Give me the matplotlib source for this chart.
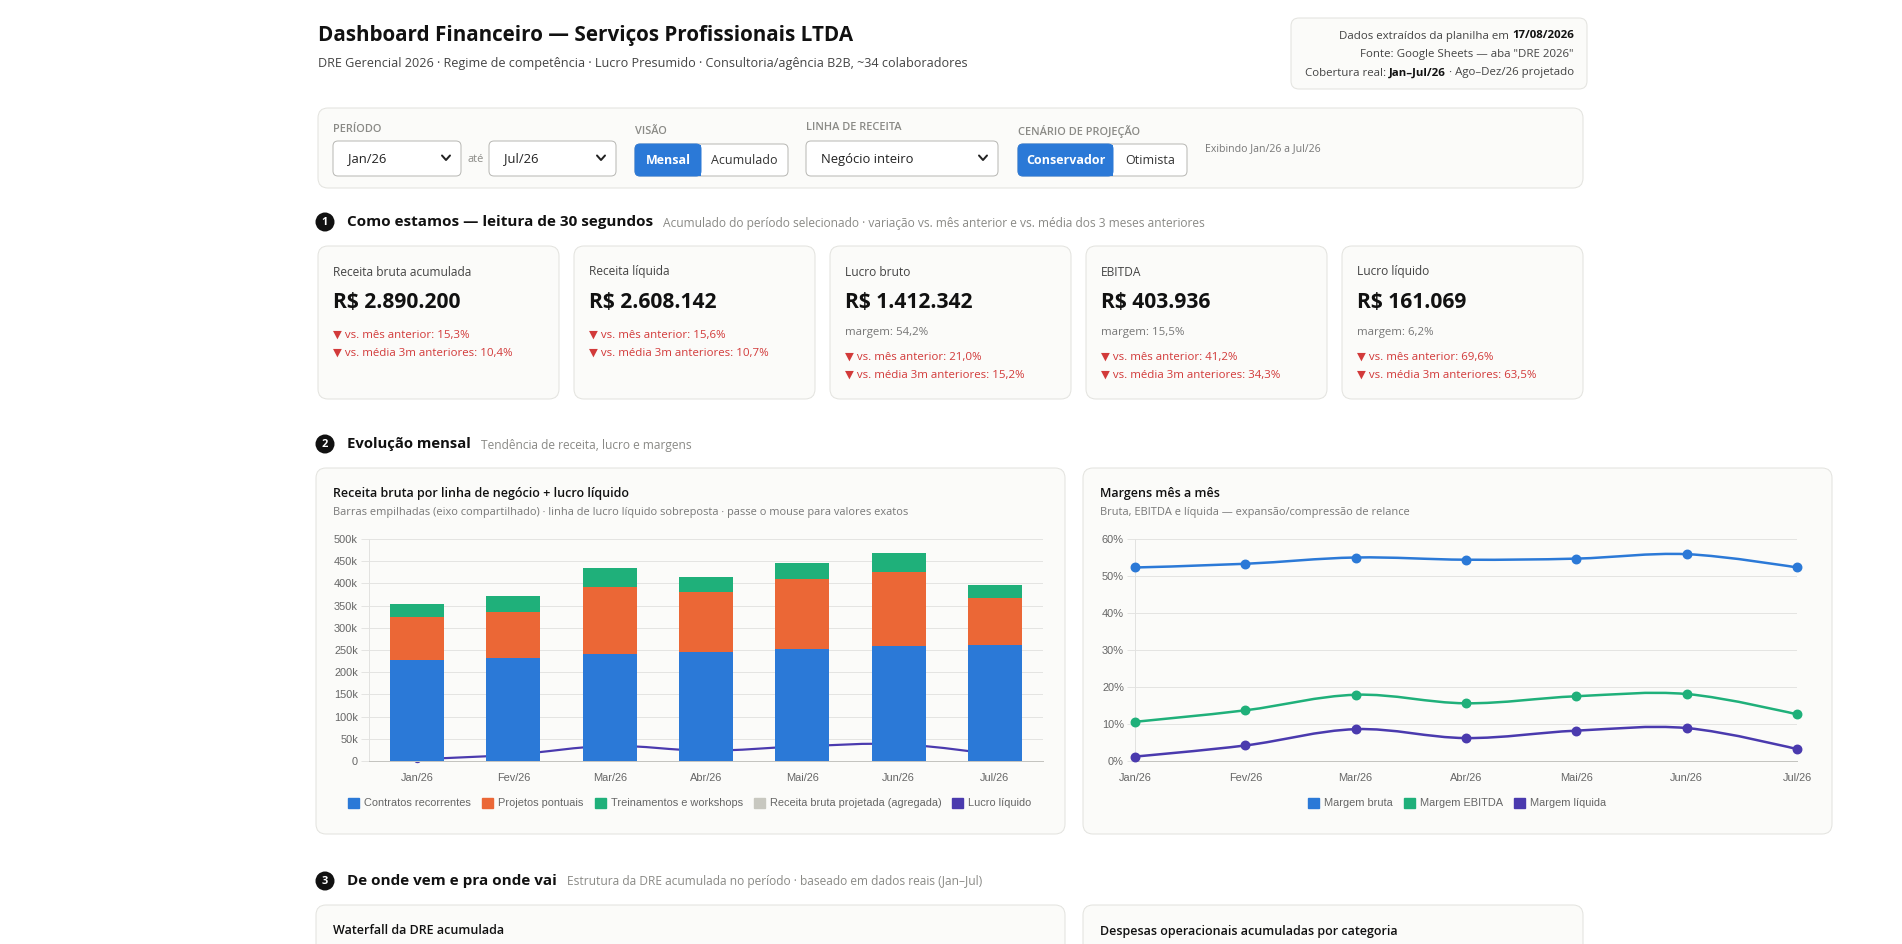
import numpy as np
import matplotlib.pyplot as plt
from matplotlib import font_manager as fm
from matplotlib.patches import FancyBboxPatch, Rectangle, Circle, Patch, PathPatch
from matplotlib.path import Path

# render statically
plt.switch_backend('agg')

W, H = 1902, 944


def pick_family():
    # first UI family that has a real bold face installed
    have = {}
    for f in fm.fontManager.ttflist:
        w = f.weight if isinstance(f.weight, int) else 700 if 'bold' in str(f.weight) else 400
        have.setdefault(f.name, set()).add(w)
    for name in ['Noto Sans', 'Open Sans', 'Lato', 'Roboto', 'Liberation Sans']:
        if name in have and max(have[name]) >= 600 and min(have[name]) <= 400:
            return name
    return 'DejaVu Sans'


UI = [pick_family(), 'DejaVu Sans']
CH = ['Liberation Sans', 'DejaVu Sans']

BLUE = '#2b79d7'
ORANGE = '#eb6736'
GREEN = '#1fb07a'
GREY_LEG = '#c8c8c0'
PURPLE = '#4a3aae'
RED = '#d23a3a'
CARD_BG = '#fbfbf9'
CARD_EDGE = '#e3e3df'

# ---------------- data ----------------
meses = ['Jan/26', 'Fev/26', 'Mar/26', 'Abr/26', 'Mai/26', 'Jun/26', 'Jul/26']
contratos_recorrentes = [227000, 231000, 240000, 245500, 251500, 258000, 262000]
projetos_pontuais = [98000, 105000, 153000, 135000, 159000, 168000, 104000]
treinamentos = [29000, 35000, 41000, 33000, 35000, 42000, 30000]
lucro_liquido = [3800, 14400, 34000, 23200, 33000, 38000, 14669]

margem_bruta = [52.3, 53.3, 55.0, 54.4, 54.7, 55.9, 52.3]
margem_ebitda = [10.6, 13.7, 17.9, 15.6, 17.5, 18.1, 12.6]
margem_liquida = [1.2, 4.2, 8.6, 6.2, 8.2, 8.9, 3.2]

kpi_labels = ['Receita bruta acumulada', 'Receita líquida', 'Lucro bruto', 'EBITDA', 'Lucro líquido']
kpi_values = ['R$ 2.890.200', 'R$ 2.608.142', 'R$ 1.412.342', 'R$ 403.936', 'R$ 161.069']
kpi_margens = [None, None, '54,2%', '15,5%', '6,2%']
kpi_vs_mes = ['15,3%', '15,6%', '21,0%', '41,2%', '69,6%']
kpi_vs_3m = ['10,4%', '10,7%', '15,2%', '34,3%', '63,5%']

bar_ticks = [0, 50000, 100000, 150000, 200000, 250000, 300000, 350000, 400000, 450000, 500000]
bar_tick_labels = ['0', '50k', '100k', '150k', '200k', '250k', '300k', '350k', '400k', '450k', '500k']
margem_ticks = [0, 10, 20, 30, 40, 50, 60]


def pt(px):
    return px * 0.72


fig = plt.figure(figsize=(W / 100, H / 100), dpi=100)
fig.patch.set_facecolor('white')
bg = fig.add_axes([0, 0, 1, 1])
bg.set_xlim(0, W)
bg.set_ylim(H, 0)
bg.axis('off')
renderer = fig.canvas.get_renderer()


def txt(x, y, s, px, color='#222222', weight='normal', ha='left', va='center', family=UI,
        fit=None):
    t = bg.text(x, y, s, fontsize=pt(px), color=color, fontweight=weight,
                ha=ha, va=va, family=family)
    if fit:
        # shrink/grow to the width measured on the reference
        w = t.get_window_extent(renderer=renderer).width
        t.set_fontsize(pt(px) * fit / w)
    return t


def left_of(t):
    return t.get_window_extent(renderer=renderer).x0


def right_of(t):
    return t.get_window_extent(renderer=renderer).x1


def box(x0, y0, x1, y1, r=10, face=CARD_BG, edge=CARD_EDGE, lw=1.0, z=0):
    p = FancyBboxPatch((x0, y0), x1 - x0, y1 - y0,
                       boxstyle='round,pad=0,rounding_size=%g' % r,
                       facecolor=face, edgecolor=edge, linewidth=pt(lw), zorder=z)
    bg.add_patch(p)
    return p


# ---------------- header ----------------
txt(318, 35, 'Dashboard Financeiro — Serviços Profissionais LTDA', 22, '#111111', 'bold', fit=538)
txt(318, 63, 'DRE Gerencial 2026 · Regime de competência · Lucro Presumido · '
    'Consultoria/agência B2B, ~34 colaboradores', 13, '#444444', fit=650)

box(1291, 18, 1587, 89, r=8)
RX = 1574
t = txt(RX, 36, '17/08/2026', 11.5, '#111111', 'bold', ha='right')
txt(left_of(t) - 3, 36, 'Dados extraídos da planilha em', 11.5, '#444444', ha='right')
txt(RX, 54.5, 'Fonte: Google Sheets — aba "DRE 2026"', 11.5, '#444444', ha='right')
t = txt(RX, 73, '· Ago–Dez/26 projetado', 11.5, '#444444', ha='right')
t = txt(left_of(t) - 3, 73, 'Jan–Jul/26', 11.5, '#111111', 'bold', ha='right')
txt(left_of(t) - 3, 73, 'Cobertura real:', 11.5, '#444444', ha='right')

# ---------------- filter panel ----------------
box(318, 108, 1583, 188, r=10)


def select(x0, x1, label):
    box(x0, 141, x1, 176, r=5, face='white', edge='#b9b9b5')
    txt(x0 + 15, 159, label, 13, '#222222')
    cx, cy = x1 - 15, 158
    bg.plot([cx - 4, cx, cx + 4], [cy - 2.5, cy + 2, cy - 2.5], color='#222222',
            lw=pt(2), solid_capstyle='round', solid_joinstyle='round')


def toggle(x0, xm, x1, on, off):
    box(x0, 144, x1, 176, r=5, face='white', edge='#b9b9b5', z=1)
    box(x0, 144, xm, 176, r=5, face=BLUE, edge=BLUE, z=2)
    bg.add_patch(Rectangle((xm - 6, 144.5), 6, 31, facecolor=BLUE, edgecolor='none', zorder=2))
    txt((x0 + xm) / 2, 160, on, 12.5, 'white', 'bold', ha='center').set_zorder(3)
    txt((xm + x1) / 2, 160, off, 12.5, '#333333', ha='center').set_zorder(3)


txt(333, 129, 'PERÍODO', 11, '#8a8a86', 'semibold')
select(333, 461, 'Jan/26')
txt(467, 160, 'até', 11, '#8a8a86')
select(489, 616, 'Jul/26')

txt(635, 132, 'VISÃO', 11, '#8a8a86', 'semibold')
toggle(635, 701, 788, 'Mensal', 'Acumulado')

txt(806, 128, 'LINHA DE RECEITA', 11, '#8a8a86', 'semibold')
select(806, 998, 'Negócio inteiro')

txt(1018, 131, 'CENÁRIO DE PROJEÇÃO', 11, '#8a8a86', 'semibold')
toggle(1018, 1113, 1187, 'Conservador', 'Otimista')

txt(1205, 149, 'Exibindo Jan/26 a Jul/26', 10.5, '#777777')


# ---------------- section headers ----------------
def section(y, num, title, sub, fit):
    bg.add_patch(Circle((325, y), 9.5, facecolor='#111111', edgecolor='none'))
    txt(325, y + 0.5, num, 11, 'white', 'bold', ha='center')
    t = txt(347, y, title, 16, '#111111', 'bold', fit=fit)
    txt(right_of(t) + 10, y + 1, sub, 12, '#8a8a86')


section(222, '1', 'Como estamos — leitura de 30 segundos',
        'Acumulado do período selecionado · variação vs. mês anterior e vs. média dos 3 meses anteriores',
        306)

# ---------------- KPI cards ----------------
cw, gap = 241, 15
for i in range(5):
    x0 = 318 + i * (cw + gap)
    box(x0, 246, x0 + cw, 399, r=10)
    tx = x0 + 15
    txt(tx, 272, kpi_labels[i], 12, '#444444')
    txt(tx, 303, kpi_values[i], 21, '#111111', 'bold')
    if kpi_margens[i] is None:
        y1, y2 = 335, 353
    else:
        txt(tx, 332, 'margem: ' + kpi_margens[i], 11.5, '#777777')
        y1, y2 = 357, 375
    txt(tx, y1, '▼ vs. mês anterior: ' + kpi_vs_mes[i], 11.5, RED)
    txt(tx, y2, '▼ vs. média 3m anteriores: ' + kpi_vs_3m[i], 11.5, RED)

# ---------------- section 2 ----------------
section(444, '2', 'Evolução mensal', 'Tendência de receita, lucro e margens', 124)

box(316, 468, 1065, 834, r=10)
box(1083, 468, 1832, 834, r=10)
txt(333, 494, 'Receita bruta por linha de negócio + lucro líquido', 12.5, '#111111', 'semibold')
txt(333, 512, 'Barras empilhadas (eixo compartilhado) · linha de lucro líquido sobreposta · '
    'passe o mouse para valores exatos', 11, '#777777')
txt(1100, 494, 'Margens mês a mês', 12.5, '#111111', 'semibold')
txt(1100, 512, 'Bruta, EBITDA e líquida — expansão/compressão de relance', 11, '#777777')


def frac(x0, y0, x1, y1):
    return [x0 / W, 1 - y1 / H, (x1 - x0) / W, (y1 - y0) / H]


def style_axes(ax):
    ax.set_facecolor('none')
    for s in ['top', 'right']:
        ax.spines[s].set_visible(False)
    ax.spines['left'].set_color('#e2e2e0')
    ax.spines['bottom'].set_color('#c4c4c0')
    ax.spines['left'].set_linewidth(pt(1))
    ax.spines['bottom'].set_linewidth(pt(1))
    ax.grid(axis='y', color='#e4e4e2', linewidth=pt(1))
    ax.set_axisbelow(True)
    ax.tick_params(axis='y', length=6, width=pt(1), color='#e4e4e2', pad=2,
                   labelsize=pt(11), labelcolor='#666666')
    ax.tick_params(axis='x', length=0, pad=pt(12), labelsize=pt(11), labelcolor='#666666')
    for lab in ax.get_xticklabels() + ax.get_yticklabels():
        lab.set_family(CH)


def smooth(ax, xs, ys, pw, ph, tension=0.35, **kw):
    x0, x1 = ax.get_xlim()
    y0, y1 = ax.get_ylim()
    sx, sy = pw / (x1 - x0), ph / (y1 - y0)
    p = np.column_stack([np.asarray(xs, float) * sx, np.asarray(ys, float) * sy])
    n = len(p)
    cprev, cnext = p.copy(), p.copy()
    for i in range(1, n - 1):
        d01 = np.hypot(*(p[i] - p[i - 1]))
        d12 = np.hypot(*(p[i + 1] - p[i]))
        fa = tension * d01 / (d01 + d12)
        fb = tension * d12 / (d01 + d12)
        cprev[i] = p[i] - fa * (p[i + 1] - p[i - 1])
        cnext[i] = p[i] + fb * (p[i + 1] - p[i - 1])
    verts = [p[0]]
    codes = [Path.MOVETO]
    for i in range(n - 1):
        verts += [cnext[i], cprev[i + 1], p[i + 1]]
        codes += [Path.CURVE4] * 3
    verts = np.array(verts) / [sx, sy]
    patch = PathPatch(Path(verts, codes), fill=False, **kw)
    ax.add_patch(patch)
    return patch


# bar chart
bx0, by0, bx1, by1 = 369, 539, 1043, 761
axb = fig.add_axes(frac(bx0, by0, bx1, by1))
x = np.arange(len(meses))
axb.set_xlim(-0.5, len(meses) - 0.5)
axb.set_ylim(0, 500000)
bw = 0.56
rec = np.array(contratos_recorrentes)
pon = np.array(projetos_pontuais)
tre = np.array(treinamentos)
axb.bar(x, rec, bw, color=BLUE, zorder=3)
axb.bar(x, pon, bw, bottom=rec, color=ORANGE, zorder=3)
axb.bar(x, tre, bw, bottom=rec + pon, color=GREEN, zorder=3)
smooth(axb, x, lucro_liquido, bx1 - bx0, by1 - by0, edgecolor=PURPLE,
       linewidth=pt(2.2), zorder=2, clip_on=False)
axb.plot(x, lucro_liquido, 'o', color=PURPLE, markersize=pt(6), zorder=2, clip_on=False)
axb.set_yticks(bar_ticks)
axb.set_yticklabels(bar_tick_labels)
axb.set_xticks(x)
axb.set_xticklabels(meses)
style_axes(axb)

handles = [Patch(facecolor=BLUE, edgecolor=BLUE),
           Patch(facecolor=ORANGE, edgecolor=ORANGE),
           Patch(facecolor=GREEN, edgecolor=GREEN),
           Patch(facecolor=GREY_LEG, edgecolor=GREY_LEG),
           Patch(facecolor=PURPLE, edgecolor=PURPLE)]
labels = ['Contratos recorrentes', 'Projetos pontuais', 'Treinamentos e workshops',
          'Receita bruta projetada (agregada)', 'Lucro líquido']
leg = fig.legend(handles, labels, loc='center', bbox_to_anchor=(690 / W, 1 - 803 / H),
                 ncol=5, frameon=False, handlelength=1.0, handleheight=1.0,
                 handletextpad=0.45, columnspacing=1.0, prop={'family': CH, 'size': pt(11)})
for tx_ in leg.get_texts():
    tx_.set_color('#666666')

# margin chart
lx0, ly0, lx1, ly1 = 1135, 539, 1797, 761
axl = fig.add_axes(frac(lx0, ly0, lx1, ly1))
axl.set_xlim(0, len(meses) - 1)
axl.set_ylim(0, 60)
for serie, cor in [(margem_bruta, BLUE), (margem_ebitda, GREEN), (margem_liquida, PURPLE)]:
    smooth(axl, x, serie, lx1 - lx0, ly1 - ly0, edgecolor=cor, linewidth=pt(2.5),
           zorder=3, clip_on=False)
    axl.plot(x, serie, 'o', color=cor, markersize=pt(8.5), zorder=4, clip_on=False)
axl.set_yticks(margem_ticks)
axl.set_yticklabels(['%d%%' % v for v in margem_ticks])
axl.set_xticks(x)
axl.set_xticklabels(meses)
style_axes(axl)

handles2 = [Patch(facecolor=BLUE, edgecolor=BLUE),
            Patch(facecolor=GREEN, edgecolor=GREEN),
            Patch(facecolor=PURPLE, edgecolor=PURPLE)]
leg2 = fig.legend(handles2, ['Margem bruta', 'Margem EBITDA', 'Margem líquida'], loc='center',
                  bbox_to_anchor=(1457 / W, 1 - 803 / H), ncol=3, frameon=False,
                  handlelength=1.0, handleheight=1.0, handletextpad=0.45, columnspacing=1.0,
                  prop={'family': CH, 'size': pt(11)})
for tx_ in leg2.get_texts():
    tx_.set_color('#666666')

# ---------------- section 3 ----------------
section(881, '3', 'De onde vem e pra onde vai',
        'Estrutura da DRE acumulada no período · baseado em dados reais (Jan–Jul)', 210)
box(316, 905, 1065, 980, r=10)
box(1083, 905, 1583, 980, r=10)
txt(333, 931, 'Waterfall da DRE acumulada', 12.5, '#111111', 'semibold')
txt(1100, 931, 'Despesas operacionais acumuladas por categoria', 12.5, '#111111', 'semibold')

fig.savefig('out.png', dpi=100, facecolor='white')
